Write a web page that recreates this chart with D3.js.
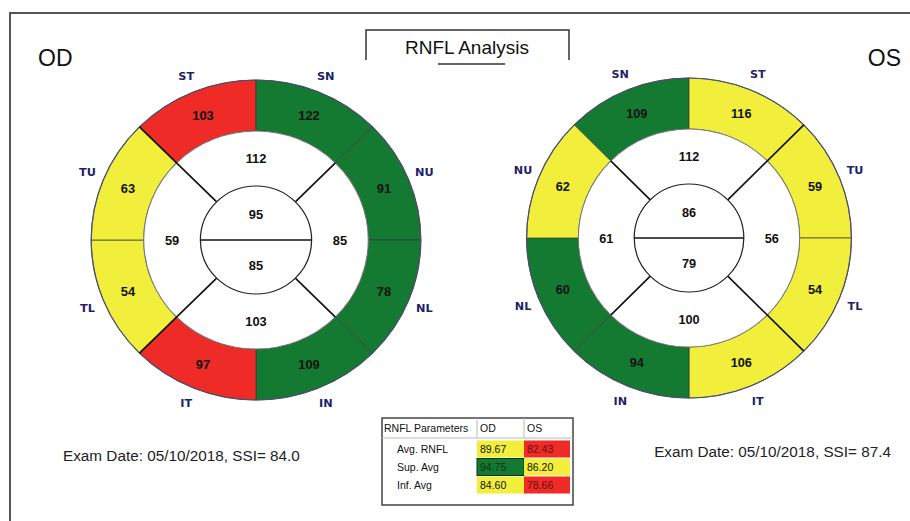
<!DOCTYPE html>
<html lang="en">
<head>
  <meta charset="UTF-8" />
  <title>RNFL Analysis</title>
  <script src="https://cdn.jsdelivr.net/npm/d3@7"></script>
  <style>
    body {
      margin: 0;
      background: #fff;
    }
    svg {
      display: block;
      font-family: "Liberation Sans", Arial, sans-serif;
    }
    .sector-label {
      font-family: "DejaVu Sans", sans-serif;
      font-size: 11px;
      font-weight: bold;
      fill: #1f1f6b;
    }
    .val {
      font-size: 12.5px;
      font-weight: bold;
      fill: #111;
    }
    .tbl {
      font-size: 10.5px;
      fill: #111;
    }
  </style>
</head>
<body>
  <div id="chart"></div>

  <script>
    // outer ring, clockwise starting at the upper-left diagonal
    const odSectors = ["ST", "SN", "NU", "NL", "IN", "IT", "TL", "TU"];
    const odOuter = [103, 122, 91, 78, 109, 97, 54, 63];
    const odOuterStatus = ["red", "green", "green", "green", "green", "red", "yellow", "yellow"];

    const osSectors = ["SN", "ST", "TU", "TL", "IT", "IN", "NL", "NU"];
    const osOuter = [109, 116, 59, 54, 106, 94, 60, 62];
    const osOuterStatus = ["green", "yellow", "yellow", "yellow", "yellow", "green", "green", "yellow"];

    // middle ring: top, right, bottom, left
    const odQuadrants = [112, 85, 103, 59];
    const osQuadrants = [112, 56, 100, 61];

    // inner circle: upper, lower
    const odInner = [95, 85];
    const osInner = [86, 79];

    const params = ["Avg. RNFL", "Sup. Avg", "Inf. Avg"];
    const odParams = [89.67, 94.75, 84.60];
    const osParams = [82.43, 86.20, 78.66];
    const odParamStatus = ["yellow", "green", "yellow"];
    const osParamStatus = ["red", "yellow", "red"];

    const width = 910;
    const height = 521;

    const svg = d3.select("#chart")
      .append("svg")
      .attr("width", width)
      .attr("height", height);

    const color = d3.scaleOrdinal()
      .domain(["red", "green", "yellow"])
      .range(["#ee2b26", "#147a32", "#f2ee3c"]);

    const textColor = d3.scaleOrdinal()
      .domain(["red", "green", "yellow"])
      .range(["#6a1010", "#0c3516", "#111"]);

    // frame
    svg.append("path")
      .attr("d", `M10,${height} L10,13 L${width},13`)
      .attr("fill", "none")
      .attr("stroke", "#555")
      .attr("stroke-width", 2);

    // title box
    svg.append("path")
      .attr("d", "M366,60 L366,30 L569,30 L569,60")
      .attr("fill", "none")
      .attr("stroke", "#333")
      .attr("stroke-width", 1.5);

    svg.append("text")
      .attr("x", 467)
      .attr("y", 54)
      .attr("text-anchor", "middle")
      .attr("font-size", 19)
      .attr("fill", "#111")
      .text("RNFL Analysis");

    svg.append("line")
      .attr("x1", 438).attr("x2", 505)
      .attr("y1", 64).attr("y2", 64)
      .attr("stroke", "#333")
      .attr("stroke-width", 1.5);

    svg.append("text")
      .attr("x", 38).attr("y", 66)
      .attr("font-size", 23)
      .attr("fill", "#111")
      .text("OD");

    svg.append("text")
      .attr("x", 901).attr("y", 66)
      .attr("text-anchor", "end")
      .attr("font-size", 23)
      .attr("fill", "#111")
      .text("OS");

    const R = 160, r2 = 109, r1 = 54, rLabel = 177;

    const angle = d3.scaleLinear()
      .domain([0, 8])
      .range([-Math.PI / 4, Math.PI * 7 / 4]);

    const quadAngle = d3.scaleLinear()
      .domain([0, 4])
      .range([-Math.PI / 4, Math.PI * 7 / 4]);

    function drawEye(cx, cy, sx, sectors, outer, status, quads, inner, temporalRight) {
      const g = svg.append("g")
        .attr("transform", `translate(${cx},${cy}) scale(${sx},1)`);

      const outerArc = d3.arc().innerRadius(r2).outerRadius(R);
      const outerData = outer.map((v, i) => ({
        name: sectors[i], value: v, status: status[i],
        startAngle: angle(i), endAngle: angle(i + 1)
      }));

      g.selectAll(".outer")
        .data(outerData)
        .enter()
        .append("path")
        .attr("class", "outer")
        .attr("d", outerArc)
        .attr("fill", d => color(d.status))
        .attr("stroke", "#3a3a3a")
        .attr("stroke-width", 0.7);

      // outline of the whole disc
      g.append("circle")
        .attr("r", R)
        .attr("fill", "none")
        .attr("stroke", "#4a4f70")
        .attr("stroke-width", 1.2);

      g.append("circle")
        .attr("r", r2)
        .attr("fill", "#fff")
        .attr("stroke", "#777")
        .attr("stroke-width", 1);

      g.selectAll(".outer-val")
        .data(outerData)
        .enter()
        .append("text")
        .attr("class", "val")
        .attr("text-anchor", "middle")
        .attr("dy", "0.36em")
        .attr("transform", d => {
          const c = d3.arc().innerRadius((R + r2) / 2).outerRadius((R + r2) / 2).centroid(d);
          return `translate(${c[0]},${c[1]})`;
        })
        .text(d => d.value);

      g.selectAll(".sector-label")
        .data(outerData)
        .enter()
        .append("text")
        .attr("class", "sector-label")
        .attr("text-anchor", "middle")
        .attr("dy", "0.36em")
        .attr("transform", d => {
          const c = d3.arc().innerRadius(rLabel).outerRadius(rLabel).centroid(d);
          return `translate(${c[0]},${c[1]})`;
        })
        .text(d => d.name);

      // quadrant dividers, the temporal ones run through the outer ring
      const temporal = temporalRight ? [1, 2] : [0, 3];
      [0, 1, 2, 3].forEach(k => {
        const a = quadAngle(k);
        const end = temporal.includes(k) ? R : r2;
        g.append("line")
          .attr("x1", r1 * Math.sin(a)).attr("y1", -r1 * Math.cos(a))
          .attr("x2", end * Math.sin(a)).attr("y2", -end * Math.cos(a))
          .attr("stroke", "#111")
          .attr("stroke-width", 1.6);
      });

      const quadCenter = d3.arc().innerRadius((r1 + r2) / 2).outerRadius((r1 + r2) / 2);
      g.selectAll(".quad-val")
        .data(quads.map((v, i) => ({ value: v, startAngle: quadAngle(i), endAngle: quadAngle(i + 1) })))
        .enter()
        .append("text")
        .attr("class", "val")
        .attr("text-anchor", "middle")
        .attr("dy", "0.36em")
        .attr("transform", d => {
          const c = quadCenter.centroid(d);
          return `translate(${c[0]},${c[1]})`;
        })
        .text(d => d.value);

      g.append("circle")
        .attr("r", r1)
        .attr("fill", "#fff")
        .attr("stroke", "#222")
        .attr("stroke-width", 1.2);

      g.append("line")
        .attr("x1", -r1).attr("x2", r1)
        .attr("y1", 0).attr("y2", 0)
        .attr("stroke", "#111")
        .attr("stroke-width", 1.6);

      g.selectAll(".inner-val")
        .data(inner)
        .enter()
        .append("text")
        .attr("class", "val")
        .attr("text-anchor", "middle")
        .attr("dy", "0.36em")
        .attr("y", (d, i) => i === 0 ? -26 : 26)
        .text(d => d);
    }

    drawEye(256, 240, 1.03, odSectors, odOuter, odOuterStatus, odQuadrants, odInner, false);
    drawEye(689, 238, 1.015, osSectors, osOuter, osOuterStatus, osQuadrants, osInner, true);

    svg.append("text")
      .attr("x", 63).attr("y", 461)
      .attr("font-size", 15.3)
      .attr("fill", "#222")
      .text("Exam Date: 05/10/2018, SSI= 84.0");

    svg.append("text")
      .attr("x", 891).attr("y", 457)
      .attr("text-anchor", "end")
      .attr("font-size", 15.3)
      .attr("fill", "#222")
      .text("Exam Date: 05/10/2018, SSI= 87.4");

    // parameter table
    const tX = 382, tY = 418, tW = 191, tH = 87;
    const colX = [tX, 477, 524, tX + tW];
    const rowY = d3.scaleBand()
      .domain(params)
      .range([440, 494]);

    const table = svg.append("g");

    table.append("rect")
      .attr("x", tX).attr("y", tY)
      .attr("width", tW).attr("height", tH)
      .attr("fill", "#fff")
      .attr("stroke", "#444")
      .attr("stroke-width", 1.5);

    table.append("line")
      .attr("x1", tX).attr("x2", tX + tW)
      .attr("y1", 438).attr("y2", 438)
      .attr("stroke", "#bbb");

    [colX[1], colX[2]].forEach(x => {
      table.append("line")
        .attr("x1", x).attr("x2", x)
        .attr("y1", tY).attr("y2", 438)
        .attr("stroke", "#bbb");
    });

    [["OD", colX[1]], ["OS", colX[2]]].forEach(([t, x]) => {
      table.append("text")
        .attr("class", "tbl")
        .attr("x", x + 3).attr("y", 432)
        .text(t);
    });

    table.append("text")
      .attr("class", "tbl")
      .attr("x", tX + 2).attr("y", 432)
      .text("RNFL Parameters");

    params.forEach((p, i) => {
      const y = rowY(p), h = rowY.bandwidth();
      table.append("text")
        .attr("class", "tbl")
        .attr("x", 397).attr("y", y + h / 2 + 4)
        .text(p);

      [[odParams, odParamStatus, colX[1], colX[2]], [osParams, osParamStatus, colX[2], colX[3] - 3]]
        .forEach(([vals, st, x0, x1]) => {
          table.append("rect")
            .attr("x", x0).attr("y", y + 0.5)
            .attr("width", x1 - x0).attr("height", h - 1)
            .attr("fill", color(st[i]))
            .attr("stroke", st[i] === "green" ? "#0b3314" : "none");
          table.append("text")
            .attr("class", "tbl")
            .attr("x", x0 + 3).attr("y", y + h / 2 + 4)
            .style("fill", textColor(st[i]))
            .text(vals[i].toFixed(2));
        });
    });
  </script>
</body>
</html>
